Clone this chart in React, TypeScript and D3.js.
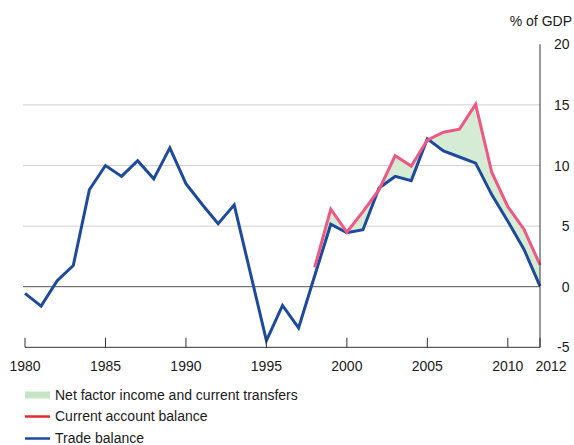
import React from "react";
import * as d3 from "d3";

const years: number[] = d3.range(1980, 2013);
const tradeBalance: number[] = [
  -0.55, -1.6, 0.5, 1.75, 8.0, 10.0, 9.1, 10.4, 8.9, 11.45, 8.5, 6.8, 5.2, 6.75,
  1.15, -4.45, -1.55, -3.4, 0.9, 5.15, 4.45, 4.7, 8.15, 9.1, 8.75, 12.2, 11.2,
  10.7, 10.2, 7.6, 5.4, 3.1, 0.05,
];
const caYears: number[] = d3.range(1998, 2013);
const currentAccount: number[] = [
  1.6, 6.4, 4.5, 6.2, 8.0, 10.8, 9.95, 12.1, 12.75, 13.0, 15.05, 9.45, 6.6, 4.75,
  1.8,
];
const xTicks: number[] = [1980, 1985, 1990, 1995, 2000, 2005, 2010, 2012];
const yTicks: number[] = [-5, 0, 5, 10, 15, 20];
const gridValues: number[] = [5, 10, 15];
const legendLabels: string[] = [
  "Net factor income and current transfers",
  "Current account balance",
  "Trade balance",
];
const unitLabel = "% of GDP";

const BLUE = "#1d4a9b";
const PINK = "#ee5884";
const FILL = "#d5ebd3";
const LEG_GREEN = "#c6e4c4";
const LEG_RED = "#e52a2f";
const FONT = "'Liberation Sans', Arial, Helvetica, sans-serif";

export default function App() {
  const W = 574;
  const H = 445;
  const x = d3.scaleLinear().domain([1980, 2012]).range([25, 540]);
  const y = d3.scaleLinear().domain([-5, 20]).range([347.3, 44.3]);

  const tradePts: [number, number][] = years.map((yr, i) => [yr, tradeBalance[i]]);
  const caPts: [number, number][] = caYears.map((yr, i) => [yr, currentAccount[i]]);

  const line = d3
    .line<[number, number]>()
    .x((d) => x(d[0]))
    .y((d) => y(d[1]));

  const area = d3
    .area<number>()
    .x((yr) => x(yr))
    .y0((yr) => y(tradeBalance[years.indexOf(yr)]))
    .y1((yr) => y(currentAccount[caYears.indexOf(yr)]));

  const FS = 14;

  return (
    <svg
      width={W}
      height={H}
      style={{ position: "absolute", left: 0, top: 0, display: "block", background: "#fff" }}
      fontFamily={FONT}
    >
      {gridValues.map((v) => (
        <line key={v} x1={23} x2={x(2012)} y1={y(v)} y2={y(v)} stroke="#d2d2d2" strokeWidth={1} />
      ))}
      <line x1={23} x2={x(2012)} y1={y(0)} y2={y(0)} stroke="#555" strokeWidth={1} />

      <path d={area(caYears) || ""} fill={FILL} stroke="none" />
      <path d={line(tradePts) || ""} fill="none" stroke={BLUE} strokeWidth={3} strokeLinejoin="miter" />
      <path d={line(caPts) || ""} fill="none" stroke={PINK} strokeWidth={3} strokeLinejoin="miter" />

      {/* axes */}
      <line x1={x(1980)} x2={x(2012)} y1={y(-5)} y2={y(-5)} stroke="#333" strokeWidth={1} />
      <line x1={x(2012)} x2={x(2012)} y1={y(20)} y2={y(-5)} stroke="#333" strokeWidth={1} />
      {xTicks.map((t) => (
        <line key={t} x1={x(t)} x2={x(t)} y1={y(-5)} y2={y(-5) - 9.5} stroke="#333" strokeWidth={1} />
      ))}
      {xTicks.map((t) => (
        <text
          key={t}
          x={t === 2012 ? x(t) + 11 : x(t)}
          y={371}
          fontSize={FS}
          textAnchor="middle"
          fill="#1a1a1a"
        >
          {t}
        </text>
      ))}
      {yTicks.map((t) => (
        <text key={t} x={569.5} y={y(t) + 5} fontSize={FS} textAnchor="end" fill="#1a1a1a">
          {t}
        </text>
      ))}
      <text x={572} y={26} fontSize={FS} textAnchor="end" fill="#1a1a1a">
        {unitLabel}
      </text>

      {/* legend */}
      <rect x={25} y={391.5} width={25} height={7} fill={LEG_GREEN} />
      <line x1={25} x2={50} y1={416.5} y2={416.5} stroke={LEG_RED} strokeWidth={2.5} />
      <line x1={25} x2={50} y1={438.5} y2={438.5} stroke={BLUE} strokeWidth={2.5} />
      {legendLabels.map((l, i) => (
        <text key={l} x={55} y={[400, 421, 442.5][i]} fontSize={FS} fill="#1a1a1a">
          {l}
        </text>
      ))}
    </svg>
  );
}
